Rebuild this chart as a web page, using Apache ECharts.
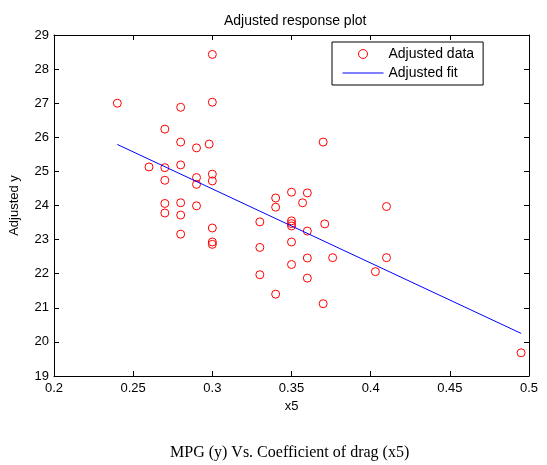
<!DOCTYPE html>
<html>
<head>
<meta charset="utf-8">
<script src="https://cdn.jsdelivr.net/npm/echarts@6/dist/echarts.min.js"></script>
<style>
html,body{margin:0;padding:0;background:#fff;}
#chart{width:547px;height:465px;}
</style>
</head>
<body>
<div id="chart"></div>
<script>
// Data
var dataX = [0.30,0.24,0.30,0.28,0.27,0.28,0.29,0.298,0.26,0.27,0.28,0.29,0.30,0.27,0.29,0.30,0.27,0.28,0.29,0.27,0.28,0.28,0.30,0.30,0.30,
             0.37,0.35,0.36,0.34,0.357,0.34,0.41,0.33,0.35,0.35,0.35,0.371,0.36,0.35,0.33,0.36,0.376,0.41,0.35,0.403,0.33,0.36,0.34,0.37,0.495];
var dataY = [28.43,27.00,27.03,26.88,26.24,25.86,25.69,25.80,25.13,25.11,25.19,24.82,24.92,24.74,24.62,24.72,24.06,24.08,23.99,23.78,23.72,23.16,23.34,22.93,22.86,
             25.86,24.39,24.37,24.22,24.08,23.95,23.97,23.52,23.55,23.47,23.40,23.46,23.25,22.93,22.77,22.46,22.47,22.47,22.27,22.06,21.97,21.87,21.40,21.12,19.68];
var fitX = [0.24, 0.495];
var fitY = [25.79, 20.25];
var xTicks = [0.2,0.25,0.3,0.35,0.4,0.45,0.5];
var yTicks = [19,20,21,22,23,24,25,26,27,28,29];

var titleText = 'Adjusted response plot';
var captionText = 'MPG (y) Vs. Coefficient of drag (x5)';
var xName = 'x5';
var yName = 'Adjusted y';
var seriesNames = ['Adjusted data', 'Adjusted fit'];

var scatterData = dataX.map(function (x, i) { return [x, dataY[i]]; });
var fitData = fitX.map(function (x, i) { return [x, fitY[i]]; });

var SANS = 'Liberation Sans';
var axisCommon = {
  axisLine: { show: true, onZero: false, lineStyle: { color: '#000', width: 1 } },
  axisTick: { show: true, inside: true, length: 5, lineStyle: { color: '#000' } },
  splitLine: { show: false }
};

var chart = echarts.init(document.getElementById('chart'), null, { renderer: 'canvas' });
chart.setOption({
  backgroundColor: '#fff',
  animation: false,
  title: [
    { text: titleText, left: 219, top: 9,
      textStyle: { fontFamily: SANS, fontSize: 14, fontWeight: 'normal', color: '#000' } },
    { text: captionText, left: 165, top: 440,
      textStyle: { fontFamily: 'Liberation Serif', fontSize: 16, fontWeight: 'normal', color: '#000' } }
  ],
  grid: { left: 50, right: 18, top: 35, bottom: 89 },
  legend: {
    orient: 'vertical', left: 332, top: 42,
    backgroundColor: '#fff', borderColor: '#000', borderWidth: 1,
    padding: [5, 9, 5, 10], itemGap: 5, itemWidth: 41, itemHeight: 9,
    textStyle: { fontFamily: SANS, fontSize: 14, color: '#000' },
    data: [
      { name: seriesNames[0], itemStyle: { color: 'rgba(0,0,0,0)', borderColor: '#ff0000', borderWidth: 1 } },
      { name: seriesNames[1], itemStyle: { color: 'rgba(0,0,0,0)', borderWidth: 0, opacity: 0 },
        lineStyle: { color: '#0000ff', width: 1 } }
    ]
  },
  xAxis: [
    Object.assign({ type: 'value', min: 0.2, max: 0.5, interval: 0.05, position: 'bottom',
      name: xName, nameLocation: 'middle', nameGap: 22,
      nameTextStyle: { fontFamily: SANS, fontSize: 13, color: '#000' },
      axisLabel: { fontFamily: SANS, fontSize: 13, color: '#000', margin: 6,
        formatter: function (v) { return String(parseFloat(v.toFixed(2))); } } }, axisCommon),
    Object.assign({ type: 'value', min: 0.2, max: 0.5, interval: 0.05, position: 'top',
      axisLabel: { show: false } }, axisCommon)
  ],
  yAxis: [
    Object.assign({ type: 'value', min: 19, max: 29, interval: 1, position: 'left',
      name: yName, nameLocation: 'middle', nameGap: 33, nameRotate: 90,
      nameTextStyle: { fontFamily: SANS, fontSize: 13, color: '#000' },
      axisLabel: { fontFamily: SANS, fontSize: 13, color: '#000', margin: 5 } }, axisCommon),
    Object.assign({ type: 'value', min: 19, max: 29, interval: 1, position: 'right',
      axisLabel: { show: false } }, axisCommon)
  ],
  series: [
    { name: seriesNames[0], type: 'scatter', xAxisIndex: 0, yAxisIndex: 0,
      symbol: 'circle', symbolSize: 8,
      itemStyle: { color: 'rgba(0,0,0,0)', borderColor: '#ff0000', borderWidth: 1, opacity: 1 },
      data: scatterData },
    { name: seriesNames[1], type: 'line', xAxisIndex: 0, yAxisIndex: 0,
      symbol: 'none', showSymbol: false,
      lineStyle: { color: '#0000ff', width: 1 }, itemStyle: { color: '#0000ff' },
      data: fitData }
  ]
});
</script>
</body>
</html>
